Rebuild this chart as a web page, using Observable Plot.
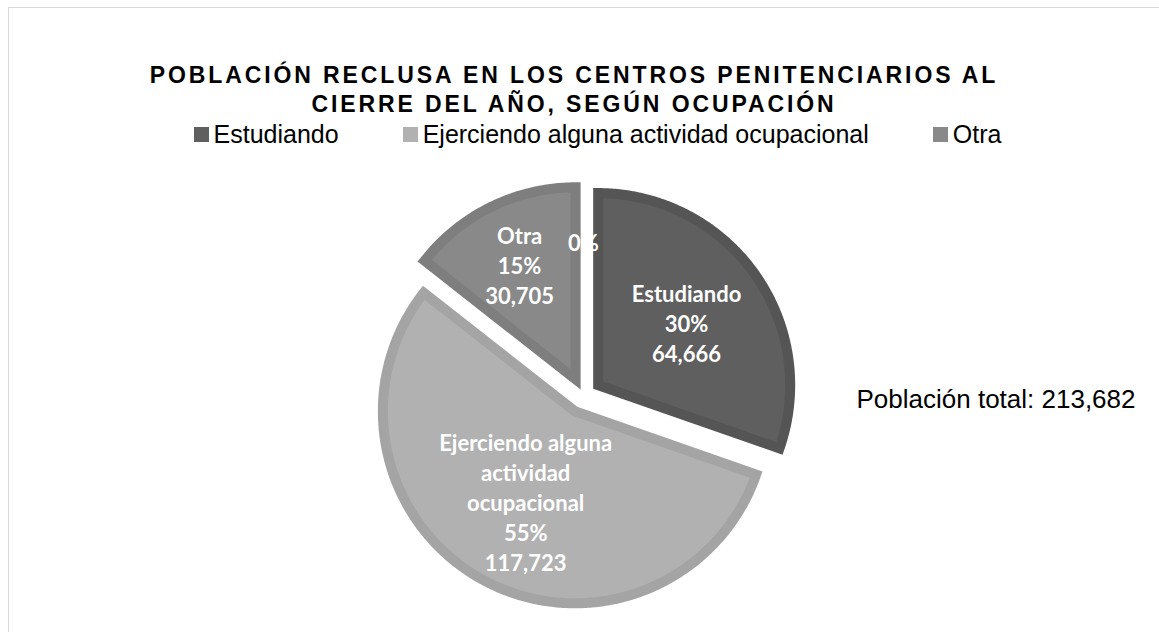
<!DOCTYPE html>
<html><head><meta charset="utf-8">
<script src="https://cdn.jsdelivr.net/npm/d3@7"></script>
<script src="https://cdn.jsdelivr.net/npm/@observablehq/plot@0.6"></script>
<style>
html,body{margin:0;padding:0;background:#fff;}
#wrap{position:relative;width:1159px;height:632px;overflow:hidden;font-family:"Liberation Sans",Arial,sans-serif;}
#frame{position:absolute;left:8px;top:7px;width:1300px;height:800px;border-left:1.5px solid #d9d9d9;border-top:1.5px solid #d9d9d9;}
#title{position:absolute;left:0;width:1148px;top:61px;text-align:center;font-weight:bold;font-size:23px;letter-spacing:2.9px;line-height:29px;color:#000;}
#legend{position:absolute;top:120px;left:18px;width:1159px;display:flex;justify-content:center;gap:64px;font-size:25px;color:#000;}
.item{display:flex;align-items:center;}
.sw{width:15px;height:15px;margin-right:5px;}
#chart{position:absolute;left:0;top:150px;}
</style></head>
<body>
<div id="wrap">
<div id="frame"></div>
<div id="title">POBLACIÓN RECLUSA EN LOS CENTROS PENITENCIARIOS AL<br>CIERRE DEL AÑO, SEGÚN OCUPACIÓN</div>
<div id="legend"></div>
<div id="chart"></div>
</div>
<script>
// ---- data ----
const categories = ["Estudiando", "Ejerciendo alguna actividad ocupacional", "Otra", "Sin especificar"];
const values = [64666, 117723, 30705, 0];
const percentLabels = ["30%", "55%", "15%", "0%"];
const sliceNames = ["Estudiando", "Ejerciendo alguna\nactividad\nocupacional", "Otra", ""];
const legendCategories = ["Estudiando", "Ejerciendo alguna actividad ocupacional", "Otra"];
const totalLabel = "Población total: 213,682";

// ---- styles / layout ----
const fills = ["#5f5f5f", "#b1b1b1", "#898989", "#9a9a9a"];
const borders = ["#555555", "#a4a4a4", "#7e7e7e", "#8e8e8e"];
const W = 1159, H = 482;
const cx = 583, cy = 245;       // pie centre in svg px
const Rvis = 197, bw = 10, Rg = Rvis - bw / 2, explode = 18;
const labelFrac = [0.55, 0.52, 0.65, 0.69];

// legend
const leg = document.getElementById("legend");
legendCategories.forEach((c, i) => {
  const it = document.createElement("div"); it.className = "item";
  const sw = document.createElement("div"); sw.className = "sw"; sw.style.background = fills[i];
  const tx = document.createElement("span"); tx.textContent = c;
  it.appendChild(sw); it.appendChild(tx); leg.appendChild(it);
});

const arcs = d3.pie().sort(null).startAngle(0).endAngle(2 * Math.PI)(values);
const fmt = d3.format(",");
const marks = [];
const labels = [];
arcs.forEach((a, i) => {
  const mid = (a.startAngle + a.endAngle) / 2;
  const ox = cx + explode * Math.sin(mid), oy = cy - explode * Math.cos(mid);
  if (a.endAngle - a.startAngle > 0) {
    const pts = [{x: ox, y: oy}];
    const n = Math.max(2, Math.ceil((a.endAngle - a.startAngle) / 0.01));
    for (let k = 0; k <= n; k++) {
      const t = a.startAngle + (a.endAngle - a.startAngle) * k / n;
      pts.push({x: ox + Rg * Math.sin(t), y: oy - Rg * Math.cos(t)});
    }
    marks.push(Plot.line(pts, {x: "x", y: "y", curve: "linear-closed", fill: fills[i], stroke: borders[i], strokeWidth: bw, strokeLinejoin: "miter", strokeMiterlimit: 10}));
  }
  const r = labelFrac[i] * Rvis;
  const txt = (sliceNames[i] ? sliceNames[i] + "\n" : "") + percentLabels[i] + (values[i] > 0 ? "\n" + fmt(values[i]) : "");
  labels.push({x: ox + r * Math.sin(mid), y: oy - r * Math.cos(mid), text: txt});
});

marks.push(Plot.text(labels, {x: "x", y: "y", text: "text", fill: "white", fontSize: 22, fontWeight: "bold", fontFamily: "Lato", lineHeight: 1.36}));
marks.push(Plot.text([totalLabel], {x: () => 856, y: () => 249, text: d => d, textAnchor: "start", fill: "black", fontSize: 26, fontFamily: "Liberation Sans"}));

const chart = Plot.plot({
  width: W, height: H, margin: 0,
  x: {domain: [0, W], axis: null},
  y: {domain: [0, H], reverse: true, axis: null},
  style: {background: "transparent", overflow: "visible"},
  marks
});
document.getElementById("chart").appendChild(chart);
</script>
</body></html>
